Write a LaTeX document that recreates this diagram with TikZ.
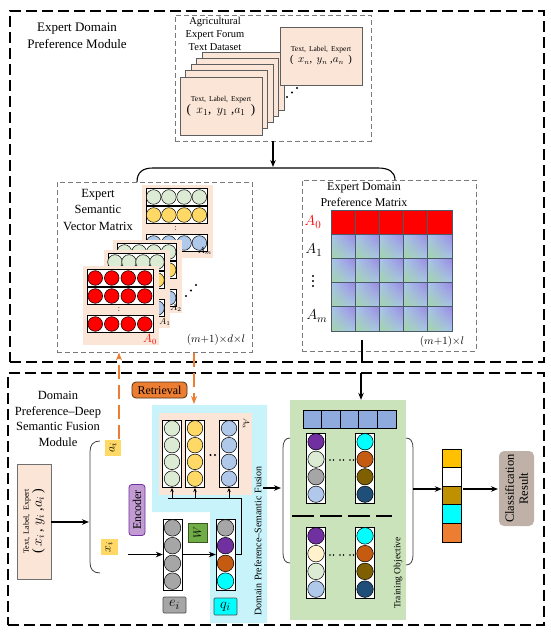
\documentclass[tikz,border=0pt]{standalone}
\usepackage{fontspec}
\setmainfont{Liberation Serif}
\usetikzlibrary{arrows.meta,shadings,calc}
\definecolor{peach}{HTML}{FBE5D6}
\definecolor{cardedge}{HTML}{5E5E5E}
\definecolor{cgreen}{HTML}{DCEBD3}
\definecolor{cyellow}{HTML}{FFD966}
\definecolor{cblue}{HTML}{B0C8EA}
\definecolor{cred}{HTML}{FF0000}
\definecolor{cpurple}{HTML}{7030A0}
\definecolor{corange}{HTML}{C55A11}
\definecolor{colive}{HTML}{7F6000}
\definecolor{cdblue}{HTML}{1F4E79}
\definecolor{ccyan}{HTML}{00FFFF}
\definecolor{cgray}{HTML}{A6A6A6}
\definecolor{clyellow}{HTML}{FFF2CC}
\definecolor{fusecyan}{HTML}{C9F3FA}
\definecolor{traingreen}{HTML}{CBE3BB}
\definecolor{retorange}{HTML}{ED7D31}
\definecolor{encpurple}{HTML}{C39BD3}
\definecolor{wgreen}{HTML}{70AD47}
\definecolor{sqblue}{HTML}{8FAADC}
\definecolor{clsfill}{HTML}{BFB1A7}
\definecolor{gold}{HTML}{FFC000}
\definecolor{dgold}{HTML}{BF9000}
\definecolor{pgreen}{HTML}{A3D6A5}
\definecolor{pblue}{HTML}{A8C6EC}
\definecolor{ppurple}{HTML}{9A88E4}
\definecolor{gridline}{HTML}{4A5A6A}
\definecolor{boxgray}{HTML}{707070}
\definecolor{dashgray}{HTML}{7A7A7A}

\newcommand{\stripfour}[4]{%
  \draw[line width=0.6pt, fill=white] (#1,#2-8.5) rectangle ++(#3,17);
  \foreach \kk in {0,1,2,3}{\draw[line width=0.5pt, fill=#4] ({#1+#3/8+\kk*#3/4},#2) circle[radius=7.3pt];}%
}
\newcommand{\vcard}[7]{%
  \fill[peach] (#1,#2) rectangle ++(#3,#4);
  \pgfmathsetmacro{\vcsx}{#1+4}%
  \pgfmathsetmacro{\vcsw}{#3-10}%
  \pgfmathsetmacro{\vcya}{#2+12}%
  \pgfmathsetmacro{\vcyb}{#2+30}%
  \pgfmathsetmacro{\vcyc}{#2+58}%
  \stripfour{\vcsx}{\vcya}{\vcsw}{#5}
  \stripfour{\vcsx}{\vcyb}{\vcsw}{#6}
  \node[font=\fontsize{8}{9}\selectfont, inner sep=0] at ({#1+#3/2-2},{#2+44}) {:};
  \stripfour{\vcsx}{\vcyc}{\vcsw}{#7}
}
\newcommand{\colfour}[7]{%
  \pgfmathsetmacro{\colr}{#3/8-0.6}%
  \draw[line width=0.7pt, fill=white] ({#1-9.5},#2) rectangle ({#1+9.5},{#2+#3});
  \foreach \cc [count=\kk from 0] in {#4,#5,#6,#7}{\draw[line width=0.5pt, fill=\cc] (#1,{#2+#3/8+\kk*#3/4}) circle[radius=\colr pt];}%
}

\tikzset{
  outerbox/.style={draw=black, line width=1.1pt, dash pattern=on 11pt off 5pt, inner sep=0},
  innerbox/.style={draw=dashgray, line width=0.9pt, dash pattern=on 5pt off 3pt, inner sep=0},
  card/.style={draw=cardedge, fill=peach, line width=0.9pt, inner sep=0},
  arr/.style={-{Stealth[length=7pt,width=5.5pt]}, line width=1.1pt},
  sarr/.style={-{Stealth[length=4pt,width=3.5pt]}, line width=0.7pt},
  oarr/.style={-{Stealth[length=8pt,width=6pt]}, line width=1.4pt, draw=retorange, dash pattern=on 14pt off 6pt},
  lbl/.style={inner sep=0, font=\fontsize{15}{16}\selectfont},
  brk/.style={line width=0.8pt, draw=black!75},
}

\begin{document}
\begin{tikzpicture}[x=1pt,y=-1pt, font=\fontsize{10}{12}\selectfont]
\useasboundingbox (0,0) rectangle (550,639);
\fill[white] (0,0) rectangle (550,639);

%% ---------------- top module ----------------
\node[outerbox, minimum width=534pt, minimum height=351pt] (topmod) at (277,186.5) {};
\node[align=center, font=\fontsize{13}{17}\selectfont] (toptitle) at (77,36) {Expert Domain\\Preference Module};

% dataset
\node[innerbox, minimum width=196pt, minimum height=126pt] (dset) at (273,78) {};
\node[align=center, font=\fontsize{10.5}{13}\selectfont, inner sep=0] (dsettitle) at (215,34) {Agricultural\\Expert Forum\\Text Dataset};
\foreach \k in {4,3,2,1}{\draw[card] ({180+5.6*\k},{77-6.2*\k}) rectangle ++(82,58);}
\node[card, minimum width=82pt, minimum height=58pt, align=center] (card1) at (221,106)
  {{\fontsize{7.5}{8}\selectfont Text,\, Label,\, Expert}\\[0pt]{\fontsize{13}{14}\selectfont (\, $x_1$,\, $y_1$ ,$a_1$\, )}};
\node[card, minimum width=82pt, minimum height=58pt, align=center] (cardn) at (321,56)
  {{\fontsize{7.5}{8}\selectfont Text,\, Label,\, Expert}\\[-1pt]{\fontsize{10.5}{11}\selectfont (\, $x_n$,\, $y_n$ ,$a_n$\, )}};
\foreach \p in {(287,97),(292,92.5),(297,88)}{\fill \p circle[radius=1.1pt];}

\coordinate (brtop) at (273,167);
\draw[arr] (dset.south) -- (brtop);
\coordinate (bl) at (137,182);
\coordinate (br) at (395,180);
\draw[line width=1.1pt] (bl) .. controls (137,172) and (143,168) .. (153,168) -- (378,168) .. controls (389,168) and (395,172) .. (br);

% expert semantic vector matrix
\node[innerbox, minimum width=195pt, minimum height=170pt] (vecbox) at (154.5,267) {};
\node[align=center, font=\fontsize{12.5}{16.5}\selectfont] (vectitle) at (98,210) {Expert\\Semantic\\Vector Matrix};
\vcard{142}{185}{71}{73}{cgreen}{cyellow}{cblue}
\vcard{113}{240}{69}{73}{cgreen}{cyellow}{cblue}
\vcard{104}{250}{66}{78}{cgreen}{cyellow}{cblue}
\vcard{83}{266}{76}{79}{cred}{cred}{cred}
\node[inner sep=0, font=\fontsize{9}{10}\selectfont] (lAm) at (205,251) {$A_m$};
\node[inner sep=0, font=\fontsize{9}{10}\selectfont] (lA2) at (176,308) {$A_2$};
\node[inner sep=0, font=\fontsize{9}{10}\selectfont] (lA1) at (165,322) {$A_1$};
\node[inner sep=0, font=\fontsize{12}{13}\selectfont, text=cred] (lA0) at (150,339) {$A_0$};
\foreach \p in {(186,296),(191,290.5),(196,285)}{\fill \p circle[radius=1.1pt];}
\node[inner sep=0, font=\fontsize{11}{12}\selectfont] (vecdim) at (216,340) {$(m{+}1){\times} d{\times} l$};

% expert domain preference matrix
\node[innerbox, minimum width=174pt, minimum height=171pt] (prefbox) at (389,265.5) {};
\node[align=center, font=\fontsize{12}{16}\selectfont] (preftitle) at (364,195) {Expert Domain\\Preference Matrix};
\foreach \i in {0,...,4}{\foreach \j in {1,...,4}{
  \shade[lower left=pgreen, upper right=ppurple, upper left=pblue, lower right=pblue] ({331+24.2*\i},{210+24.2*\j}) rectangle ++(24.2,24.2);
  \draw[draw=gridline, line width=0.8pt] ({331+24.2*\i},{210+24.2*\j}) rectangle ++(24.2,24.2);
}}
\foreach \i in {0,...,4}{\draw[draw=gridline, fill=cred, line width=0.8pt] ({331+24.2*\i},210) rectangle ++(24.2,24.2);}
\node[lbl, text=cred] (rA0) at (313,222) {$A_0$};
\node[lbl] (rA1) at (314,250) {$A_1$};
\coordinate (rdots) at (313,281);
\foreach \dy in {-5,0,5}{\fill ($(rdots)+(0,\dy)$) circle[radius=1.1pt];}
\node[lbl] (rAm) at (317,316) {$A_m$};
\node[inner sep=0, font=\fontsize{11}{12}\selectfont] (prefdim) at (442,342) {$(m{+}1){\times} l$};

\coordinate (pm) at (362,340);
\draw[line width=1.1pt] (pm) -- (pm |- topmod.south);

%% ---------------- bottom module ----------------
\node[outerbox, minimum width=536pt, minimum height=252pt] (botmod) at (276,499) {};
\node[align=center, font=\fontsize{12.5}{15.7}\selectfont] (bottitle) at (58,419) {Domain\\Preference--Deep\\Semantic Fusion\\Module};

% training box and fusion region backgrounds
\fill[fusecyan] (152,405) -- (267,405) -- (267,623) -- (210,623) -- (210,512) -- (152,512) -- cycle;
\node[fill=traingreen, minimum width=116pt, minimum height=220pt, inner sep=0] (train) at (348,510) {};

\coordinate (trtop) at (361,373);
\draw[arr] (trtop) -- (train.north -| trtop);

% input
\node[draw=boxgray, fill=peach, line width=0.8pt, minimum width=34pt, minimum height=115pt, inner sep=0] (inp) at (34,521.5) {};
\node[rotate=90, align=center, inner sep=0] (inptext) at (inp.center)
  {{\fontsize{8}{9}\selectfont Text,\, Label,\, Expert}\\[1pt]{\fontsize{14}{15}\selectfont (\,$x_i$\,, $y_i$ ,$a_i$\,)}};
\coordinate (lb) at (89,522);
\draw[arr] (inp.east |- lb) -- (lb);
\draw[brk] (100,441) .. controls (93,441) and (90,445) .. (90,452) -- (90,562) .. controls (90,569) and (93,573) .. (100,573);

\node[fill=cyellow, minimum width=16pt, minimum height=16pt, inner sep=0, rotate=90, font=\fontsize{13}{14}\selectfont] (ai) at (113,448) {$a_i$};
\node[fill=cyellow, minimum width=16pt, minimum height=17pt, inner sep=0, rotate=90, font=\fontsize{13}{14}\selectfont] (xi) at (109,547) {$x_i$};
\node[fill=encpurple, draw=cpurple, line width=0.8pt, rounded corners=3pt, minimum width=51pt, minimum height=16pt, inner sep=0, rotate=90, font=\fontsize{12}{13}\selectfont] (enc) at (137,510) {Encoder};

% retrieval arrows
\coordinate (ol) at (119,439);
\draw[oarr] (ol) -- (ol |- vecbox.south);
\coordinate (orr) at (194,353);
\coordinate (ortip) at (194,404);
\draw[oarr] (orr) -- (ortip);
\node[fill=retorange, draw=black!60!brown, line width=0.8pt, rounded corners=4pt, minimum width=55pt, minimum height=16pt, inner sep=1pt, font=\fontsize{12}{13}\selectfont] (retr) at (159.5,390) {Retrieval};

% A_a card
\node[fill=peach, minimum width=93pt, minimum height=82pt, inner sep=0] (aacard) at (205.5,454) {};
\colfour{172}{420}{67}{cgreen}{cgreen}{cgreen}{cgreen}
\colfour{195}{420}{67}{cyellow}{cyellow}{cyellow}{cyellow}
\colfour{229}{420}{67}{cblue}{cblue}{cblue}{cblue}
\fill (210.5,455) circle[radius=1.1pt] (215,455) circle[radius=1.1pt];
\node[rotate=-90, inner sep=0, font=\fontsize{8}{9}\selectfont] (laa) at (246,424) {$A_a$};

% e_i, W, q_i
\node[minimum width=19pt, minimum height=71pt, inner sep=0] (ei) at (172.5,554.5) {};
\colfour{172.5}{519}{71}{cgray}{cgray}{cgray}{cgray}
\draw[arr, shorten <=10pt] (xi.south |- ei.west) -- (ei.west);
\node[fill=cgray, draw=black!70, line width=0.7pt, rounded corners=1pt, minimum width=23pt, minimum height=16pt, inner sep=0, font=\fontsize{15}{16}\selectfont] (eil) at (174.5,605) {$e_i$};
\node[fill=wgreen, draw=black!50!wgreen, line width=0.7pt, minimum size=19pt, inner sep=0, rotate=90, font=\fontsize{11}{12}\selectfont] (W) at (197.5,532.5) {$W$};
\node[minimum width=19pt, minimum height=71pt, inner sep=0] (qi) at (225.5,554.5) {};
\colfour{225.5}{519}{71}{cgray}{cpurple}{corange}{ccyan}
\draw[arr] (ei.east) -- (qi.west);
\node[fill=ccyan, draw=black!70, line width=0.7pt, rounded corners=1pt, minimum width=23pt, minimum height=17pt, inner sep=0, font=\fontsize{15}{16}\selectfont] (qil) at (225.5,606.5) {$q_i$};

\coordinate (bus) at (241,498);
\draw[line width=0.8pt] (qi.east) -| (bus) -- (168,498);
\foreach \xx in {172,195,229}{\coordinate (up\xx) at (\xx,498); \draw[sarr] (up\xx) -- (\xx,488);}

\node[rotate=90, inner sep=0, font=\fontsize{10}{12}\selectfont] (fuselbl) at (258,541) {Domain Preference--Semantic Fusion};
\coordinate (fuse) at (263,488);
\coordinate (lbr) at (281,488);
\draw[arr] (fuse) -- (lbr);

% training objective contents
\draw[brk] (290,438) .. controls (285,438) and (283,442) .. (283,448) -- (283,553) .. controls (283,559) and (285,563) .. (290,563);
\draw[brk] (406,438) .. controls (411,438) and (413,442) .. (413,448) -- (413,555) .. controls (413,561) and (411,565) .. (406,565);
\foreach \i in {0,...,4}{\draw[fill=sqblue, line width=0.8pt] ({303+18.6*\i},410) rectangle ++(18.6,18);}
\colfour{316}{433}{70}{cpurple}{cgreen}{cgray}{cblue}
\colfour{365}{433}{70}{ccyan}{corange}{colive}{cdblue}
\colfour{316}{527}{71}{cpurple}{clyellow}{cgreen}{cblue}
\colfour{365}{527}{71}{ccyan}{corange}{colive}{cdblue}
\foreach \xx in {330,333.5,340,343.5,350,353.5}{\fill (\xx,460) circle[radius=0.9pt]; \fill (\xx,555) circle[radius=0.9pt];}
\draw[line width=2.6pt, dash pattern=on 22pt off 6pt] (292,516) -- (392,516);
\node[rotate=90, inner sep=0, font=\fontsize{9.5}{10}\selectfont] (trlbl) at (398,573) {Training Objective};

% output
\node[minimum width=19pt, minimum height=93pt, inner sep=0] (out) at (451.5,495.5) {};
\foreach \c [count=\kk from 0] in {gold,white,dgold,ccyan,retorange}{\draw[fill=\c, line width=0.8pt] (442,{449+18.6*\kk}) rectangle ++(19,18.6);}
\coordinate (rbr) at (413,489);
\draw[arr] (rbr) -- (out.west |- rbr);
\node[fill=clsfill, rounded corners=5pt, minimum width=75pt, minimum height=35pt, rotate=90, align=center, inner sep=1pt, font=\fontsize{12.5}{14}\selectfont] (cls) at (516.5,488.5) {Classification\\Result};
\coordinate (clsw) at (498,489);
\draw[arr, shorten <=2pt] (out.east |- rbr) -- (clsw);
\end{tikzpicture}
\end{document}
